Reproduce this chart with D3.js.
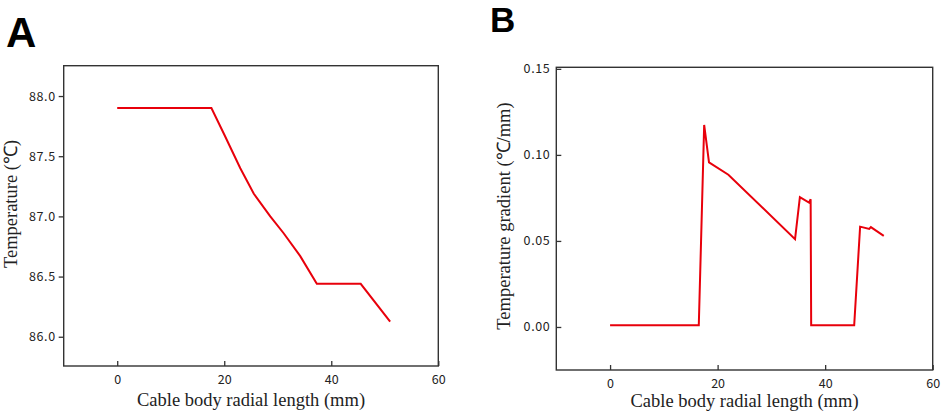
<!DOCTYPE html>
<html>
<head>
<meta charset="utf-8">
<script src="https://cdn.jsdelivr.net/npm/d3@7"></script>
<style>
  body { margin: 0; background: #fff; }
  .tick text { font-family: "Noto Sans CJK SC", "DejaVu Sans", sans-serif; fill: #222; }
  .title { font-family: "Liberation Serif", "Times New Roman", serif; fill: #222; }
  .letter { font-family: "Liberation Sans", Arial, sans-serif; font-weight: bold; fill: #000; }
</style>
</head>
<body>
<div id="chart"></div>
<script>
// panel A: temperature along the radius
var tempX = [0, 17.6, 20, 23.0, 25.5, 28.6, 31.1, 34.2, 37.3, 45.5, 51.0];
var tempY = [87.9, 87.9, 87.68, 87.40, 87.19, 87.0, 86.86, 86.67, 86.44, 86.44, 86.125];
var tempTicks = [86.0, 86.5, 87.0, 87.5, 88.0];

// panel B: temperature gradient along the radius
var gradX = [0, 16.5, 17.5, 18.4, 22, 34.4, 35.3, 37.0, 37.3, 37.4, 45.4, 46.5, 48.2, 48.5, 50.9];
var gradY = [0.001, 0.001, 0.1174, 0.0957, 0.0885, 0.051, 0.0754, 0.0723, 0.0742, 0.001, 0.001, 0.0583, 0.057, 0.058, 0.0529];
var gradTicks = [0.00, 0.05, 0.10, 0.15];

var xTicks = [0, 20, 40, 60];
var xTitle = "Cable body radial length (mm)";

var svg = d3.select('#chart').append('svg')
  .attr('width', 941)
  .attr('height', 414);

function drawPanel(opt) {
  var g = svg.append('g');
  var x = d3.scaleLinear().domain([-10, 60]).range([opt.left, opt.right]);
  var y = d3.scaleLinear().domain(opt.yDomain).range([opt.bottom, opt.top]);

  // frame
  g.append('rect')
    .attr('x', opt.left).attr('y', opt.top)
    .attr('width', opt.right - opt.left)
    .attr('height', opt.bottom - opt.top)
    .attr('fill', 'none')
    .attr('stroke', '#333')
    .attr('stroke-width', 1.4);

  var xAxis = d3.axisBottom(x).tickValues(xTicks).tickSize(-5).tickPadding(9);
  var gx = g.append('g')
    .attr('transform', 'translate(0,' + opt.bottom + ')')
    .call(xAxis);
  gx.select('.domain').remove();
  gx.selectAll('.tick line').attr('stroke', '#333').attr('stroke-width', 1.3);
  gx.selectAll('.tick text').attr('font-size', 12.5);

  var yAxis = d3.axisLeft(y).tickValues(opt.yTicks)
    .tickSize(opt.yTickSize).tickPadding(opt.yPad)
    .tickFormat(d3.format(opt.yFormat));
  var gy = g.append('g')
    .attr('transform', 'translate(' + opt.left + ',0)')
    .call(yAxis);
  gy.select('.domain').remove();
  gy.selectAll('.tick line').attr('stroke', '#333').attr('stroke-width', 1.3);
  gy.selectAll('.tick text').attr('font-size', 12.5).attr('letter-spacing', 0.6);

  var line = d3.line()
    .x(function(d) { return x(d[0]); })
    .y(function(d) { return y(d[1]); });
  g.append('path')
    .datum(d3.zip(opt.xs, opt.ys))
    .attr('d', line)
    .attr('fill', 'none')
    .attr('stroke', '#e8000b')
    .attr('stroke-width', 2)
    .attr('stroke-linejoin', 'miter');

  g.append('text')
    .attr('class', 'title')
    .attr('x', (x(-10) + x(60)) / 2)
    .attr('y', opt.xTitleY)
    .attr('text-anchor', 'middle')
    .attr('font-size', 18.5)
    .text(xTitle);

  g.append('text')
    .attr('class', 'title')
    .attr('transform', 'translate(' + opt.yTitleX + ',' + opt.yTitleY + ') rotate(-90)')
    .attr('text-anchor', 'middle')
    .attr('font-size', 18.5)
    .text(opt.yTitle);

  g.append('text')
    .attr('class', 'letter')
    .attr('x', opt.letterX)
    .attr('y', opt.letterY)
    .attr('font-size', opt.letterSize)
    .text(opt.letter);
}

drawPanel({
  left: 63.7, right: 438.3, top: 65.7, bottom: 366,
  yDomain: [85.757, 88.252], yTicks: tempTicks, yFormat: '.1f',
  yTickSize: 5, yPad: 3,
  xs: tempX, ys: tempY,
  xTitleY: 406,
  yTitle: 'Temperature (℃)', yTitleX: 17, yTitleY: 204,
  letter: 'A', letterX: 6, letterY: 46.5, letterSize: 42
});

drawPanel({
  left: 556.3, right: 932.7, top: 67.3, bottom: 370,
  yDomain: [-0.025, 0.1509], yTicks: gradTicks, yFormat: '.2f',
  yTickSize: -5, yPad: 6,
  xs: gradX, ys: gradY,
  xTitleY: 407,
  yTitle: 'Temperature gradient (℃/mm)', yTitleX: 510, yTitleY: 216,
  letter: 'B', letterX: 490, letterY: 32, letterSize: 35
});
</script>
</body>
</html>
